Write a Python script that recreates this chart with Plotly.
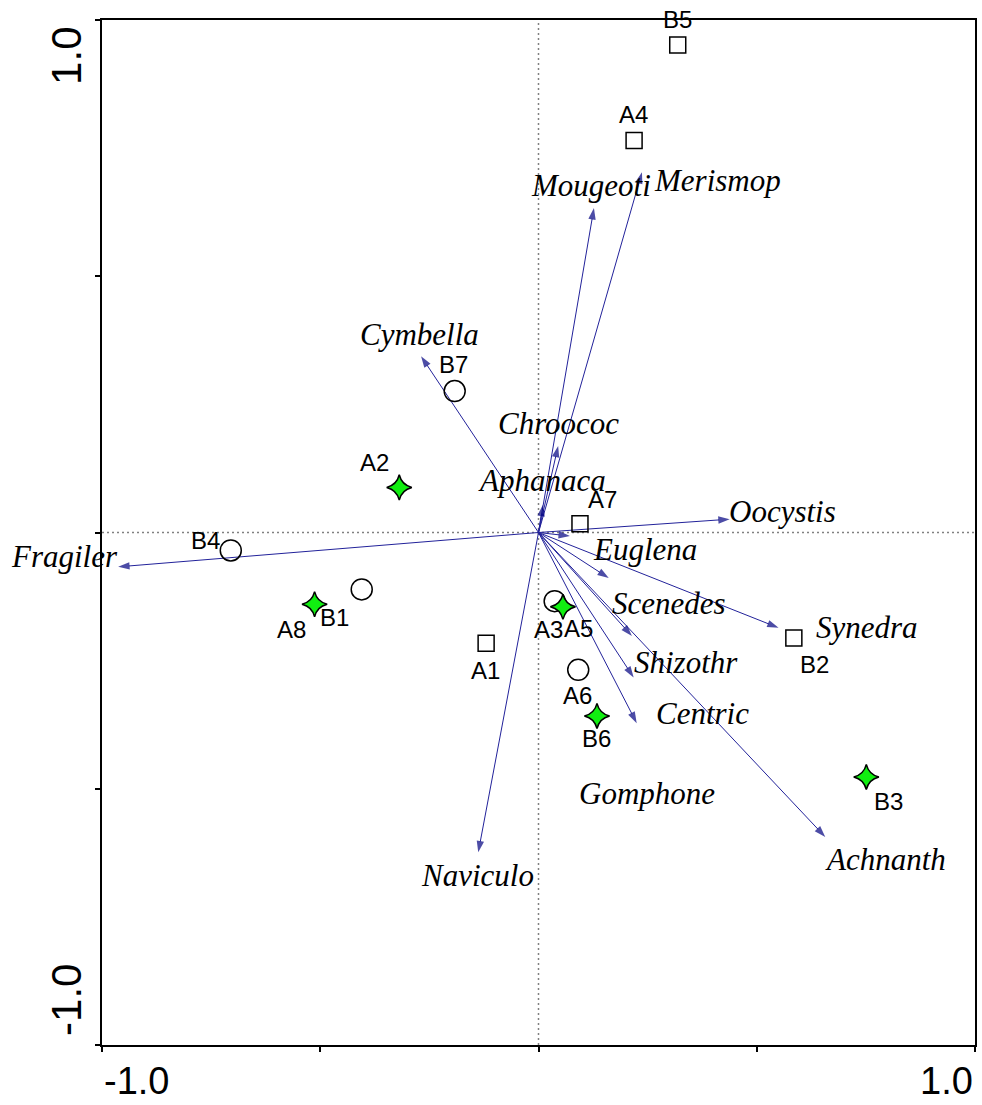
import plotly.graph_objects as go

# ---- sample scores (axis 1, axis 2), grouped by plotting symbol ----
square_ids = ["A1", "A4", "A7", "B2", "B5"]
square_x = [-0.120, 0.219, 0.095, 0.585, 0.319]
square_y = [-0.216, 0.765, 0.017, -0.206, 0.951]

circle_ids = ["A3", "A6", "B1", "B4", "B7"]
circle_x = [0.037, 0.091, -0.405, -0.705, -0.192]
circle_y = [-0.134, -0.268, -0.111, -0.035, 0.276]

star_ids = ["A2", "A5", "A8", "B3", "B6"]
star_x = [-0.319, 0.056, -0.513, 0.751, 0.134]
star_y = [0.088, -0.145, -0.140, -0.477, -0.358]

# ---- species scores (arrow tips) ----
species = ["Achnanth", "Aphanaca", "Centric", "Chroococ", "Cymbella",
           "Euglena", "Fragiler", "Gomphone", "Merismop", "Mougeoti",
           "Naviculo", "Oocystis", "Scenedes", "Shizothr", "Synedra"]
species_x = [0.657, 0.010, 0.218, 0.045, -0.269,
             0.072, -0.963, 0.225, 0.237, 0.127,
             -0.138, 0.438, 0.161, 0.214, 0.550]
species_y = [-0.594, 0.054, -0.283, 0.169, 0.344,
             -0.007, -0.067, -0.372, 0.703, 0.633,
             -0.624, 0.026, -0.089, -0.202, -0.186]

axis_ticks = [-1.0, -0.5, 0.0, 0.5, 1.0]

# label placement relative to each mark, in screen pixels (dx right, dy down)
sample_label_offset = {
    "B5": (0, -26), "A4": (-1, -26), "A7": (23, -24), "A1": (-1, 27), "B2": (21, 26),
    "B7": (-1, -27), "B4": (-25, -10), "B1": (-27, 28), "A3": (-6, 28), "A6": (-1, 26),
    "A2": (-25, -25), "A8": (-23, 25), "A5": (16, 22), "B6": (0, 23), "B3": (22, 25),
}
species_label_offset = {
    "Mougeoti": (-3, -23), "Merismop": (76, 8), "Cymbella": (-2, -22),
    "Chroococ": (0, -22), "Aphanaca": (-1, -24), "Oocystis": (53, -8),
    "Euglena": (75, 13), "Fragiler": (-54, -10), "Scenedes": (60, 25),
    "Synedra": (88, 0), "Shizothr": (54, 26), "Centric": (69, 36),
    "Gomphone": (10, 70), "Achnanth": (60, 23), "Naviculo": (-1, 23),
}

SANS = "Liberation Sans, Arial, sans-serif"
SERIF = "Liberation Serif, Times New Roman, serif"
NAVY = "#000080"

fig = go.Figure()

# reference lines through the origin
fig.add_shape(type="line", xref="x", yref="y", x0=0, x1=0, y0=-1, y1=1,
              line=dict(color="#808080", width=1.5, dash="2px,3px"), layer="below")
fig.add_shape(type="line", xref="x", yref="y", x0=-1, x1=1, y0=0, y1=0,
              line=dict(color="#808080", width=1.5, dash="2px,3px"), layer="below")

# species arrows: one line per species from the origin, arrowhead at the tip
ax_x, ax_y, syms, sizes = [], [], [], []
for sx, sy in zip(species_x, species_y):
    ax_x += [0.0, sx, None]
    ax_y += [0.0, sy, None]
    syms += ["circle", "arrow", "circle"]
    sizes += [0, 12, 0]
fig.add_trace(go.Scatter(
    x=ax_x, y=ax_y, mode="lines+markers", hoverinfo="skip",
    line=dict(color="#22229a", width=1),
    marker=dict(symbol=syms, size=sizes, color=NAVY, angleref="previous",
                line=dict(width=0)),
    showlegend=False,
))

# sample markers
fig.add_trace(go.Scatter(
    x=square_x, y=square_y, mode="markers", text=square_ids, showlegend=False,
    marker=dict(symbol="square-open", size=16, color="black", line=dict(width=1.5)),
))
fig.add_trace(go.Scatter(
    x=circle_x, y=circle_y, mode="markers", text=circle_ids, showlegend=False,
    marker=dict(symbol="circle-open", size=21, color="black", line=dict(width=1.5)),
))
fig.add_trace(go.Scatter(
    x=star_x, y=star_y, mode="markers", text=star_ids, showlegend=False,
    marker=dict(symbol="star-diamond", size=18, color="#11ee11",
                line=dict(color="black", width=1.5)),
))

annotations = []
# sample labels
for ids, xs, ys in [(square_ids, square_x, square_y),
                    (circle_ids, circle_x, circle_y),
                    (star_ids, star_x, star_y)]:
    for name, px, py in zip(ids, xs, ys):
        dx, dy = sample_label_offset[name]
        annotations.append(dict(
            x=px, y=py, xref="x", yref="y", text=name, showarrow=False,
            xanchor="center", yanchor="middle", xshift=dx, yshift=-dy,
            font=dict(family=SANS, size=24, color="black"),
        ))
# species labels
for name, px, py in zip(species, species_x, species_y):
    dx, dy = species_label_offset[name]
    annotations.append(dict(
        x=px, y=py, xref="x", yref="y", text=name, showarrow=False,
        xanchor="center", yanchor="middle", xshift=dx, yshift=-dy,
        font=dict(family=SERIF, size=31, color="black", style="italic"),
    ))

# end labels of both axes, set just inside the axis range
annotations += [
    dict(x=axis_ticks[0], y=0, xref="x", yref="paper", text="-1.0", showarrow=False,
         xanchor="left", yanchor="middle", yshift=-36,
         font=dict(family=SANS, size=38, color="black")),
    dict(x=axis_ticks[-1], y=0, xref="x", yref="paper", text="1.0", showarrow=False,
         xanchor="right", yanchor="middle", yshift=-36,
         font=dict(family=SANS, size=38, color="black")),
    dict(x=0, y=0.93, xref="paper", yref="y", text="1.0", showarrow=False,
         textangle=-90, xanchor="center", yanchor="middle", xshift=-35,
         font=dict(family=SANS, size=42, color="black")),
    dict(x=0, y=-0.912, xref="paper", yref="y", text="-1.0", showarrow=False,
         textangle=-90, xanchor="center", yanchor="middle", xshift=-35,
         font=dict(family=SANS, size=42, color="black")),
]

axis_style = dict(
    range=[-1, 1], showgrid=False, zeroline=False,
    showline=True, linecolor="black", linewidth=2, mirror=True,
    ticks="outside", ticklen=5, tickwidth=2, tickcolor="black",
    tickvals=axis_ticks, showticklabels=False, fixedrange=True,
)

fig.update_layout(
    width=982, height=1105,
    margin=dict(l=102, r=5, t=20, b=60),
    paper_bgcolor="white", plot_bgcolor="white",
    xaxis=axis_style, yaxis=axis_style,
    annotations=annotations,
    showlegend=False,
)

fig.write_html("out.html")
